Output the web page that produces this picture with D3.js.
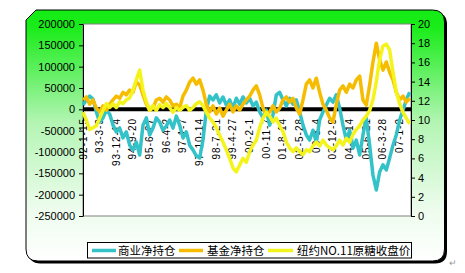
<!DOCTYPE html>
<html>
<head>
<meta charset="utf-8">
<script src="https://cdn.jsdelivr.net/npm/d3@7"></script>
<style>
  body { margin: 0; background: #fff; }
  svg text { font-family: "Liberation Sans", Arial, sans-serif; }
</style>
</head>
<body>
<div id="chart"></div>
<script>
// weekly data sampled every 8 weeks, 1992 - 2007
var dateLabels = ["92-1-15","93-3-9","93-12-14","94-9-20","95-6-27","96-4-2","97-1-7","97-10-14","98-7-21","99-4-27",
  "00-2-1","00-11-7","01-8-14","02-5-28","03-3-4","03-12-9","04-9-14","05-6-21","06-3-28","07-1-2"];
var leftTicks = [200000,150000,100000,50000,0,-50000,-100000,-150000,-200000,-250000];
var rightTicks = [0,2,4,6,8,10,12,14,16,18,20];
var seriesNames = ["商业净持仓","基金净持仓","纽约NO.11原糖收盘价"];

// 商业净持仓 (thousand contracts)
var commercial = [10,22,31,24,-6,-30,-20,-2,-11,-37,-53,-44,-67,-53,-84,-95,-77,-107,-37,-20,
  -60,-44,-20,-30,-49,-39,-25,-44,-16,-37,-67,-53,-84,-95,-109,-114,-72,-2,31,22,
  34,15,29,10,22,3,26,12,29,15,26,8,17,-6,-20,-2,-37,-13,34,40,
  22,8,26,12,22,-6,-37,-60,-72,-49,-77,-25,-6,10,26,17,34,3,-37,-72,
  -49,-91,-72,-107,-60,-20,-84,-154,-189,-147,-130,-142,-114,-84,-60,-25,-2,22,40];
// 基金净持仓 (thousand contracts)
var fund = [22,29,12,22,3,-6,8,-2,12,22,31,26,40,34,45,40,64,57,34,12,
  -2,3,22,26,17,29,22,8,12,3,31,45,64,73,59,69,45,12,-6,8,
  -11,3,-16,-2,12,-6,8,-2,12,22,31,45,55,34,3,-13,-6,8,-6,3,
  22,29,17,26,3,-11,22,59,69,50,73,40,12,-2,-20,-30,12,45,55,40,
  59,50,69,78,22,10,57,111,155,116,92,111,87,69,40,22,31,17,26];
// 纽约NO.11原糖收盘价 (cents/lb)
var price = [10.8,10.0,9.0,9.2,9.4,10.2,11.0,11.7,11.3,11.7,11.3,11.9,11.7,12.1,12.3,13.1,14.2,15.2,13.1,11.9,
  11.0,11.5,11.0,11.6,11.3,11.7,11.3,10.8,11.3,11.0,11.3,11.5,11.0,11.3,11.7,11.9,11.5,10.8,10.2,9.8,
  9.2,8.4,7.7,6.9,6.0,5.0,4.6,5.3,6.0,5.6,6.7,7.4,7.9,9.2,10.2,10.8,10.4,9.8,10.2,9.4,
  8.8,7.7,7.1,6.7,7.1,6.7,6.4,6.9,6.7,7.3,7.7,7.3,7.9,7.4,7.1,6.9,7.3,7.9,7.4,8.1,
  7.7,8.5,9.0,9.4,10.0,10.4,11.0,12.1,14.0,16.3,17.7,17.9,17.3,15.0,12.9,11.7,10.8,10.2,9.6];

var colors = ["#33c2c8", "#f6bc00", "#f4f41c"];
var W = 465, H = 273;
var plot = {l: 83, r: 411, t: 24, b: 216};
var N = commercial.length;

var svg = d3.select("#chart").append("svg").attr("width", W).attr("height", H);

var defs = svg.append("defs");
var grad = defs.append("linearGradient").attr("id", "bg").attr("x1", 0).attr("y1", 0).attr("x2", 0).attr("y2", 1);
grad.append("stop").attr("offset", "0").attr("stop-color", "#14ec14");
grad.append("stop").attr("offset", "0.07").attr("stop-color", "#1aec1a");
grad.append("stop").attr("offset", "0.45").attr("stop-color", "#b4f5b4");
grad.append("stop").attr("offset", "0.8").attr("stop-color", "#eefcee");
grad.append("stop").attr("offset", "1").attr("stop-color", "#ffffff");

// frame with bevelled top-left and rounded other corners
function framePath(x0, y0, x1, y1) {
  var r = 12;
  return "M" + x0 + "," + (y0 + 10) + " L" + (x0 + 10) + "," + y0 +
    " L" + (x1 - r) + "," + y0 + " Q" + x1 + "," + y0 + " " + x1 + "," + (y0 + r) +
    " L" + x1 + "," + (y1 - r) + " Q" + x1 + "," + y1 + " " + (x1 - r) + "," + y1 +
    " L" + (x0 + r) + "," + y1 + " Q" + x0 + "," + y1 + " " + x0 + "," + (y1 - r) + " Z";
}
svg.append("path").attr("d", framePath(28.5, 12.5, 447, 263.5)).attr("fill", "#000");
svg.append("path").attr("d", framePath(26, 10, 444.5, 261)).attr("fill", "url(#bg)")
  .attr("stroke", "#000").attr("stroke-width", 1);

svg.append("rect").attr("x", plot.l).attr("y", plot.t)
  .attr("width", plot.r - plot.l).attr("height", plot.b - plot.t)
  .attr("fill", "#fff").attr("stroke", "#808080").attr("stroke-width", 1);

var x = d3.scaleLinear().domain([0, N - 1]).range([plot.l, plot.l + (N - 1) * 3.333]);
var yL = d3.scaleLinear().domain([-250000, 200000]).range([plot.b, plot.t]);
var yR = d3.scaleLinear().domain([0, 20]).range([plot.b, plot.t]);

var gl = svg.append("g").attr("transform", "translate(" + plot.l + ",0)")
  .call(d3.axisLeft(yL).tickValues(leftTicks).tickSize(4).tickSizeOuter(0).tickFormat(function (d) { return String(d); }));
var gr = svg.append("g").attr("transform", "translate(" + plot.r + ",0)")
  .call(d3.axisRight(yR).tickValues(rightTicks).tickSize(4).tickSizeOuter(0).tickFormat(function (d) { return String(d); }));
[gl, gr].forEach(function (g) {
  g.selectAll("text").attr("font-size", 11).attr("fill", "#000")
    .style("font-family", "'Liberation Sans', Arial, sans-serif");
  g.selectAll("line,path").attr("stroke", "#000");
});
gl.selectAll("text").attr("x", -8);
gr.selectAll("text").attr("x", 7);

// zero line of the category axis
svg.append("line").attr("x1", plot.l).attr("x2", plot.r)
  .attr("y1", yL(0)).attr("y2", yL(0)).attr("stroke", "#000").attr("stroke-width", 4);

svg.append("g").selectAll("text").data(dateLabels).enter().append("text")
  .attr("transform", function (d, i) { return "translate(" + (x(i * 5) + 3.5) + "," + 118 + ") rotate(-90)"; })
  .attr("text-anchor", "end").attr("font-size", 10).attr("letter-spacing", 1)
  .text(function (d) { return d; });

var lineL = d3.line().x(function (d, i) { return x(i); }).y(function (d) { return yL(d * 1000); });
var lineR = d3.line().x(function (d, i) { return x(i); }).y(function (d) { return yR(d); });

svg.append("path").datum(commercial).attr("d", lineL).attr("fill", "none")
  .attr("stroke", colors[0]).attr("stroke-width", 3.5).attr("stroke-linejoin", "round");
svg.append("path").datum(fund).attr("d", lineL).attr("fill", "none")
  .attr("stroke", colors[1]).attr("stroke-width", 3.5).attr("stroke-linejoin", "round");
svg.append("path").datum(price).attr("d", lineR).attr("fill", "none")
  .attr("stroke", colors[2]).attr("stroke-width", 3.5).attr("stroke-linejoin", "round");

// legend
var lg = svg.append("g");
lg.append("rect").attr("x", 87.5).attr("y", 242.5).attr("width", 324).attr("height", 15.5)
  .attr("fill", "#fff").attr("stroke", "#000").attr("stroke-width", 1);
var legX = [[92, 116, 118], [179, 203, 207], [268, 293, 297]];
seriesNames.forEach(function (name, k) {
  lg.append("line").attr("x1", legX[k][0]).attr("x2", legX[k][1]).attr("y1", 250.5).attr("y2", 250.5)
    .attr("stroke", colors[k]).attr("stroke-width", 3.5);
  lg.append("text").attr("x", legX[k][2]).attr("y", 254.5).attr("font-size", 11.5)
    .style("font-family", "'Noto Sans CJK SC', sans-serif").text(name);
});

svg.append("text").attr("x", 449).attr("y", 266).attr("font-size", 9).attr("fill", "#999").text("↵");
</script>
</body>
</html>
